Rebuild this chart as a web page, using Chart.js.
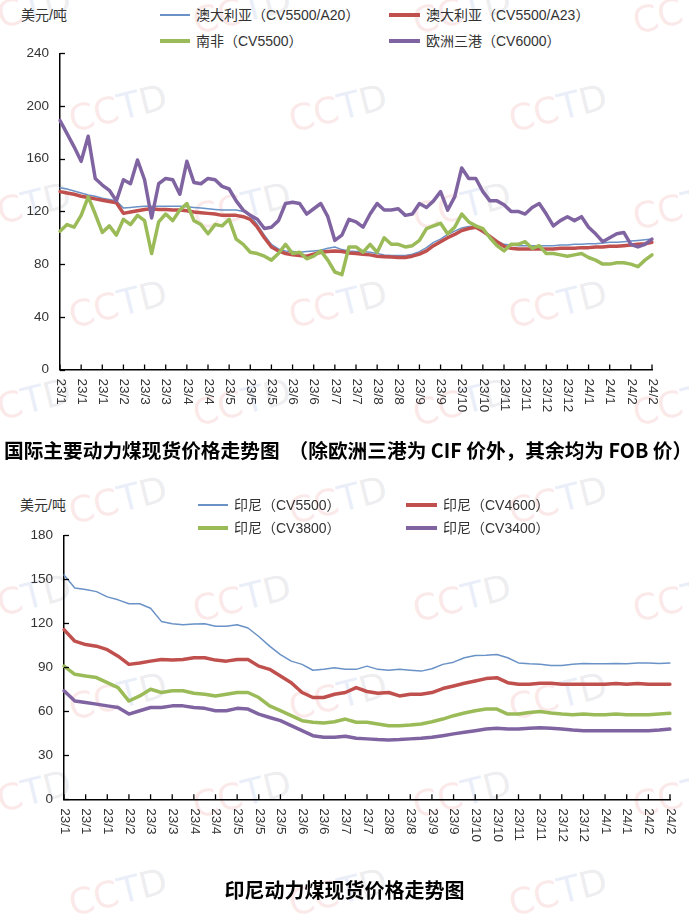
<!DOCTYPE html>
<html><head><meta charset="utf-8">
<script src="https://cdn.jsdelivr.net/npm/chart.js@4"></script>
<style>
body{margin:0;background:#fff;width:689px;height:923px;position:relative;overflow:hidden;font-family:"Liberation Sans","Noto Sans CJK SC",sans-serif;color:#333;}
.box{position:absolute;left:0;width:689px;}
canvas{display:block}
.unit{position:absolute;font-size:14px;line-height:16px;color:#333;}
.leg{position:absolute;font-size:14px;line-height:16px;color:#333;white-space:nowrap;display:flex;align-items:center;}
.leg i{display:inline-block;margin-right:6px;}
.title{position:absolute;font-weight:bold;line-height:22px;font-family:"Noto Sans CJK SC",sans-serif;color:#000;white-space:nowrap;}
#wm{position:absolute;left:0;top:0;width:689px;height:923px;overflow:hidden;}
.wm{position:absolute;width:104px;height:40px;font:36px "DejaVu Sans",sans-serif;line-height:40px;transform:rotate(-14deg);white-space:nowrap;}
.wm .c{color:rgba(232,120,120,0.17);}
.wm .t{color:rgba(120,150,215,0.17);}
.wm .d{color:rgba(150,150,165,0.17);}
</style>
</head><body>
<div id="wm"></div>

<div class="unit" style="left:21px;top:7px">美元/吨</div>
<div class="leg" style="left:160px;top:7px"><i style="width:30px;height:2px;background:#6A92C6"></i>澳大利亚（CV5500/A20）</div>
<div class="leg" style="left:389px;top:7px"><i style="width:31px;height:4px;background:#C0504D"></i>澳大利亚（CV5500/A23）</div>
<div class="leg" style="left:160px;top:33px"><i style="width:30px;height:4px;background:#9BBB59"></i>南非（CV5500）</div>
<div class="leg" style="left:389px;top:33px"><i style="width:31px;height:4px;background:#8064A2"></i>欧洲三港（CV6000）</div>
<div class="box" style="top:0;height:440px"><canvas id="c1"></canvas></div>
<div class="title" style="left:4px;top:439px;font-size:19.7px">国际主要动力煤现货价格走势图 &nbsp;（除欧洲三港为 CIF 价外，其余均为 FOB 价）</div>

<div class="unit" style="left:20px;top:497px">美元/吨</div>
<div class="leg" style="left:198px;top:497px"><i style="width:30px;height:2px;background:#6A92C6"></i>印尼（CV5500）</div>
<div class="leg" style="left:406px;top:497px"><i style="width:31px;height:4px;background:#C0504D"></i>印尼（CV4600）</div>
<div class="leg" style="left:198px;top:520px"><i style="width:30px;height:4px;background:#9BBB59"></i>印尼（CV3800）</div>
<div class="leg" style="left:406px;top:520px"><i style="width:31px;height:4px;background:#8064A2"></i>印尼（CV3400）</div>
<div class="box" style="top:470px;height:420px"><canvas id="c2"></canvas></div>
<div class="title" style="left:0;width:689px;text-align:center;top:879px;font-size:20px">印尼动力煤现货价格走势图</div>

<script>
// ---- shared tick labels (x axis) ----
const tickLabels = ['23/1','23/1','23/1','23/2','23/3','23/3','23/4','23/4','23/5','23/5','23/5','23/6','23/6','23/7','23/7','23/8','23/8','23/9','23/9','23/10','23/10','23/11','23/11','23/12','23/12','24/1','24/1','24/2','24/2'];

// ---- top chart: international coal prices (USD/t), 3 points per tick interval ----
const ausA20 = [138,137,135.5,134,132.5,131.5,130,129,128,122.5,
 123,123.5,124,124,124,124,124,124,123.5,123,
 122.5,122,121.5,121,121,121,120,117,110,102,
 95,91.5,90,89.5,89,89.5,90,90.5,92,93,
 91,90,89.5,89.5,89,88,87,86.5,86.5,86.5,
 87.5,89.5,92.5,96.5,99,102.5,105,107.5,108.5,108.5,
 104,101,97.5,95,94.5,94,94,94,94,94,
 94,94.5,94.5,95,95,95.5,95.5,96,96.5,96.5,
 97,97.5,98,98.5,99];
const ausA23 = [135,134,133,131.5,130.5,129.5,128.5,127.5,126.5,118.5,
 119.5,120.5,121.5,122,121.5,121.5,121,121,120.5,119.5,
 119,118.5,118,117,117,117,116,114,108,100,
 93,90,88,87,86.5,86,87.5,89,89.5,90,
 89.5,88.5,88,87.5,87,86,85.6,85.3,85,85,
 86,87.6,90,94,97,100,102.5,105.5,107,108,
 105,101,97,93.5,92,91.5,91.5,91.5,91.5,91.5,
 91.5,92,92,92,92.5,92.5,93,93,93.5,93.5,
 94,94.5,95,95.5,96.6];
const southAfrica = [105,110,108,117,131,118,104,109,102,114,
 110,117,113,88,112,118,113,121,126,113,
 110,103,110,109,114,99,95,89,88,86,
 83,88,95,88,89,84,86,90,83,74,
 72,93,93,89,95,89,100,95,95,93,
 94,98,107,109,111,103,108,118,112,109,
 107,100,94,90,95,95,97,92,94,88,
 88,87,86,87,88,85,83,80,80,81,
 81,80,78,83,87];
const ara = [189,179,169,158,177,145,140,136,128,144,
 141,159,144,115,141,145,144,133,158,142,
 141,145,144,139,137,128,121,117,114,107,
 108,113,126,127,126,118,122,126,116,98,
 102,114,112,108,118,126,121,121,122,117,
 118,126,123,128,135,121,131,153,145,145,
 135,128,128,125,120,120,118,123,126,118,
 109,113,116,113,116,108,103,97,100,103,
 104,95,93,95,99];
const yTicksTop = [0,40,80,120,160,200,240];

// ---- bottom chart: Indonesian coal prices (USD/t), 2 points per tick interval ----
const indo5500 = [153,144,143,141.6,138,136,133.3,133.3,130.3,121.3,
 119.7,119,119.5,119.7,118,118,119,116.8,111,104.4,
 98.7,94.2,92,88,88.6,89.7,88.6,88.6,90.8,88.6,
 88,88.6,88,87.4,89,92,93.5,96.5,98,98.2,
 98.7,96.5,93,92.4,92,91.3,91.3,92,92.6,92.4,
 92.4,92.6,92.4,93,93,92.6,93];
const indo4600 = [115.7,107.8,105.5,104.4,102,97.6,92,93,94.2,95.3,
 94.9,95.3,96.5,96.5,94.9,94.2,95.3,95.3,90.8,88.6,
 84,79.5,72.8,69.4,69.4,71.6,72.8,76.2,73.5,72.3,
 72.8,70.5,71.6,71.6,72.8,75.5,77.3,79.1,80.7,82.3,
 82.9,79.5,78.4,78.4,79.1,79.1,78.4,78.4,78.4,78.4,
 78.4,78.9,78.4,78.9,78.4,78.4,78.4];
const indo3800 = [90.8,85.2,84,83,79.5,76.2,67,70.5,75,72.8,
 74,74,72.3,71.6,70.5,71.6,72.8,72.8,69.4,63.7,
 60.4,57,53.6,52.5,52,52.9,54.7,52.5,52.5,51.4,
 50.2,50.2,50.7,51.4,52.9,54.7,57,58.8,60.4,61.5,
 61.5,58.1,58.1,59.2,59.9,58.8,58.1,57.7,58.1,57.7,
 57.7,58.1,57.7,57.7,57.7,58.1,58.6];
const indo3400 = [74,67,66,64.9,63.7,62.6,58.1,60.4,62.6,62.6,
 63.7,63.7,62.6,62,60.4,60.4,62,61.5,58.1,55.8,
 53.6,50.2,46.8,43.4,42.3,42.3,43,41.6,41.2,40.7,
 40.5,40.7,41.2,41.6,42.3,43.4,44.6,45.7,46.8,47.9,
 48.4,47.9,47.9,48.4,48.8,48.4,47.9,47.2,46.8,46.8,
 46.8,46.8,46.8,46.8,46.8,47.2,47.9];
const yTicksBottom = [0,30,60,90,120,150,180];

const COLORS = {blue:'#6A92C6', red:'#C0504D', green:'#9BBB59', purple:'#8064A2'};
const FONT = '"Liberation Sans","Noto Sans CJK SC",sans-serif';

// faint "CCTD" background watermarks (decoration)
(function(){
  const host = document.getElementById('wm');
  for (let r = 0; r < 10; r++) {
    const cy = 10 + r * 98;
    const cols = r % 2 === 0 ? [24, 244, 464, 684] : [120, 340, 560];
    cols.forEach(cx => {
      const d = document.createElement('div');
      d.className = 'wm';
      d.style.left = (cx - 52) + 'px';
      d.style.top = (cy - 20) + 'px';
      d.innerHTML = '<span class="c">CC</span><span class="t">T</span><span class="d">D</span>';
      host.appendChild(d);
    });
  }
})();

function buildCats(n, k){
  return Array.from({length:n}, (_, i) => i % k === 0 ? tickLabels[i / k] : '');
}

const axisPlugin = {
  id: 'axisDeco',
  afterDraw(chart, args, opts){
    const ctx = chart.ctx;
    const xs = chart.scales.x, ys = chart.scales.y;
    const area = chart.chartArea;
    ctx.save();
    ctx.strokeStyle = '#000';
    ctx.lineWidth = 1.3;
    opts.yTicks.forEach(v => {
      const y = Math.round(ys.getPixelForValue(v)) + 0.5;
      ctx.beginPath(); ctx.moveTo(area.left, y); ctx.lineTo(area.left + 5, y); ctx.stroke();
    });
    ctx.fillStyle = '#333';
    ctx.font = '13.5px ' + FONT;
    ctx.textAlign = 'left';
    ctx.textBaseline = 'middle';
    chart.data.labels.forEach((lab, i) => {
      if (i % opts.k !== 0) return;
      const x = xs.getPixelForValue(i);
      ctx.beginPath(); ctx.moveTo(x, area.bottom); ctx.lineTo(x, area.bottom - 5); ctx.stroke();
      ctx.save();
      ctx.translate(x + 0.5, area.bottom + opts.gap);
      ctx.rotate(Math.PI / 2);
      ctx.fillText(lab, 0, 0);
      ctx.restore();
    });
    ctx.restore();
  }
};

function makeChart(id, cats, sets, yMax, yStep, yWidth, xHeight, pad, k, yTicks){
  return new Chart(document.getElementById(id), {
    type: 'line',
    data: { labels: cats, datasets: sets },
    options: {
      responsive: true, maintainAspectRatio: false, animation: false,
      layout: { padding: pad },
      plugins: { legend: { display: false }, tooltip: { enabled: false }, axisDeco: { k: k, gap: 9, yTicks: yTicks } },
      elements: { point: { radius: 0 }, line: { tension: 0, borderCapStyle: 'round', borderJoinStyle: 'round' } },
      scales: {
        x: {
          type: 'category', offset: false,
          grid: { display: false, drawTicks: false },
          border: { display: true, color: '#000', width: 1.5 },
          ticks: { display: false },
          afterFit: s => { s.height = xHeight; }
        },
        y: {
          min: 0, max: yMax,
          grid: { display: false, drawTicks: false },
          border: { display: true, color: '#000', width: 1.5 },
          ticks: { stepSize: yStep, padding: 11, color: '#333', font: { family: FONT, size: 13.5 } },
          afterFit: s => { s.width = yWidth; }
        }
      }
    },
    plugins: [axisPlugin]
  });
}

makeChart('c1', buildCats(ausA20.length, 3), [
  { data: ausA20, borderColor: COLORS.blue, borderWidth: 1.5, order: 3 },
  { data: ausA23, borderColor: COLORS.red, borderWidth: 3.5, order: 2 },
  { data: southAfrica, borderColor: COLORS.green, borderWidth: 3.5, order: 1 },
  { data: ara, borderColor: COLORS.purple, borderWidth: 3.5, order: 0 }
], 240, 40, 60, 70.5, { top: 53.3, right: 37, left: 0, bottom: 0 }, 3, yTicksTop);

makeChart('c2', buildCats(indo5500.length, 2), [
  { data: indo5500, borderColor: COLORS.blue, borderWidth: 1.5, order: 3 },
  { data: indo4600, borderColor: COLORS.red, borderWidth: 3.5, order: 2 },
  { data: indo3800, borderColor: COLORS.green, borderWidth: 3.5, order: 1 },
  { data: indo3400, borderColor: COLORS.purple, borderWidth: 3.5, order: 0 }
], 180, 30, 64, 90.7, { top: 65.3, right: 19, left: 0, bottom: 0 }, 2, yTicksBottom);
</script>
</body></html>
